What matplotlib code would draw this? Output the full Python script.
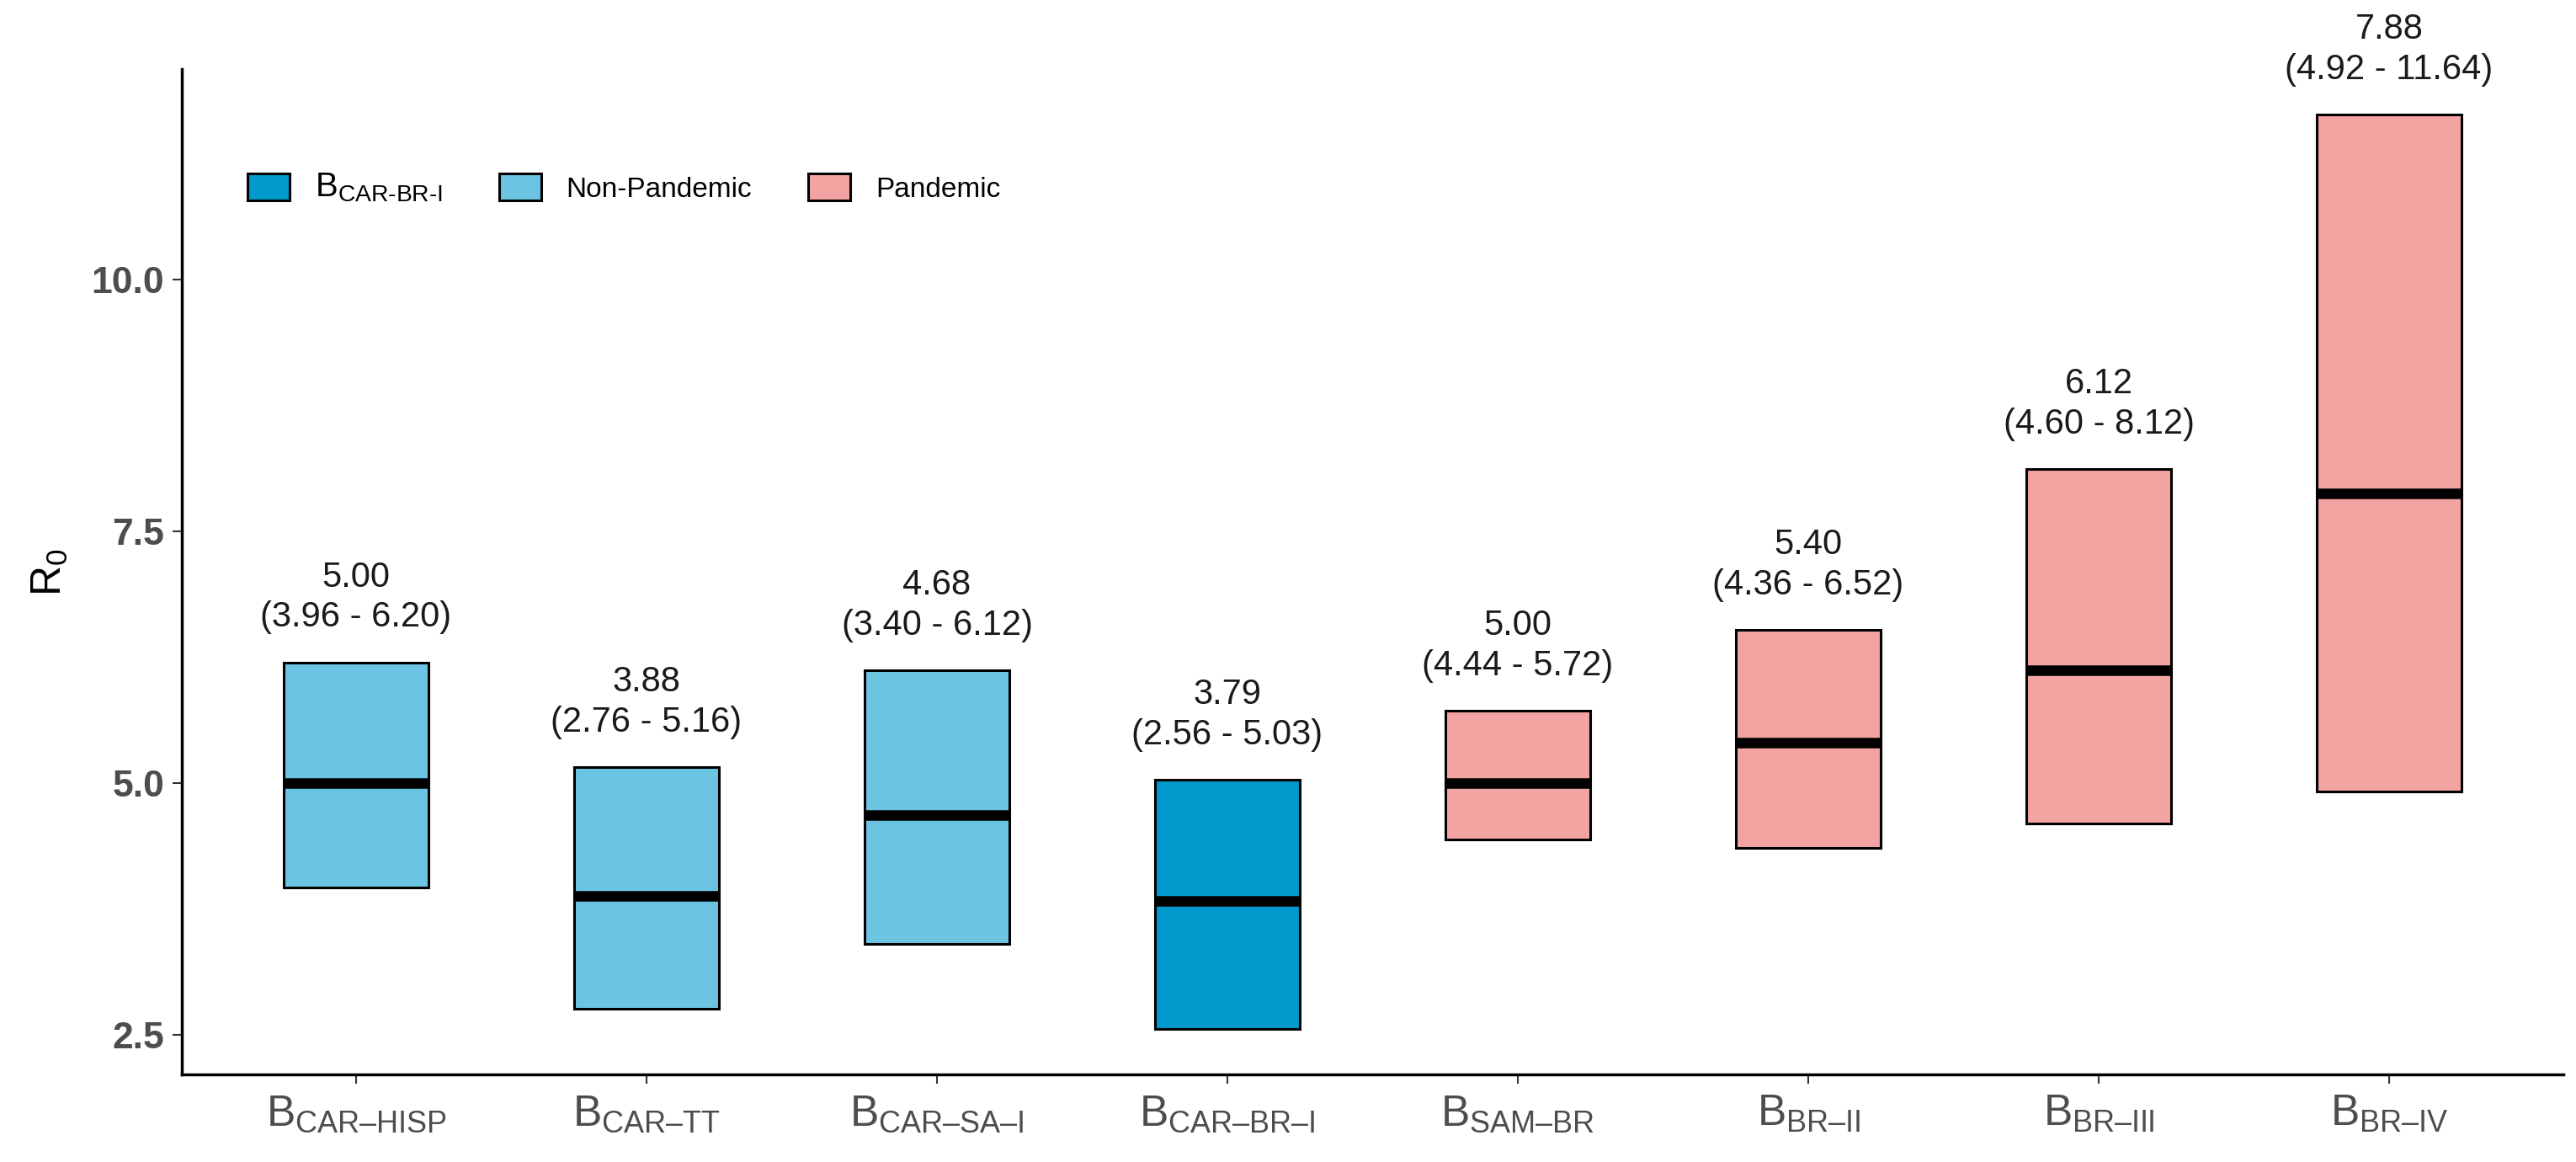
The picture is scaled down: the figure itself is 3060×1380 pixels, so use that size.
import matplotlib
matplotlib.use("Agg")
import matplotlib.pyplot as plt
from matplotlib.patches import Patch

# R0 estimates per lineage: median line, 95% interval box, and the printed labels

strains = ["CAR–HISP", "CAR–TT", "CAR–SA–I", "CAR–BR–I",
           "SAM–BR", "BR–II", "BR–III", "BR–IV"]
groups = ["Non-Pandemic", "Non-Pandemic", "Non-Pandemic", "B_CAR-BR-I",
          "Pandemic", "Pandemic", "Pandemic", "Pandemic"]
r0_median = [5.00, 3.88, 4.68, 3.83, 5.00, 5.40, 6.12, 7.88]
r0_low = [3.96, 2.76, 3.40, 2.56, 4.44, 4.36, 4.60, 4.92]
r0_high = [6.20, 5.16, 6.12, 5.03, 5.72, 6.52, 8.12, 11.64]
median_text = ["5.00", "3.88", "4.68", "3.79", "5.00", "5.40", "6.12", "7.88"]

colours = {"B_CAR-BR-I": "#0099CC",
           "Non-Pandemic": "#6AC4E2",
           "Pandemic": "#F4A3A3"}

plt.rcParams['font.family'] = ['Liberation Sans', 'DejaVu Sans']
plt.rcParams['mathtext.fontset'] = 'custom'
plt.rcParams['mathtext.rm'] = 'Liberation Sans'
plt.rcParams['mathtext.it'] = 'Liberation Sans:italic'
plt.rcParams['mathtext.bf'] = 'Liberation Sans:bold'

fig = plt.figure(figsize=(30.6, 13.8), dpi=100)
ax = fig.add_axes([216 / 3060, 104 / 1380, (3045 - 216) / 3060, (1276 - 82) / 1380])

x = list(range(1, len(strains) + 1))
width = 0.5

# boxes from low to high
heights = [h - l for h, l in zip(r0_high, r0_low)]
ax.bar(x, heights, bottom=r0_low, width=width,
       color=[colours[g] for g in groups], edgecolor="black", linewidth=2.2, zorder=2)

# median lines
ax.hlines(r0_median, [xi - width / 2 for xi in x], [xi + width / 2 for xi in x],
          color="black", linewidth=9, zorder=3)

# labels above each box
for xi, hi, med, lo in zip(x, r0_high, median_text, r0_low):
    ax.annotate("%s\n(%.2f - %.2f)" % (med, lo, hi), xy=(xi, hi),
                xytext=(0, 24), textcoords="offset points",
                ha="center", va="bottom", fontsize=30, color="#1A1A1A",
                linespacing=1.25)

ax.set_xlim(0.4, 8.6)
ax.set_ylim(2.106, 12.094)

ax.set_xticks(x)
ax.set_xticklabels([r"$\mathrm{B}_{\mathrm{%s}}$" % s for s in strains],
                   fontsize=37, color="#4D4D4D")
ax.set_yticks([2.5, 5.0, 7.5, 10.0])
ax.set_yticklabels(["2.5", "5.0", "7.5", "10.0"], fontsize=32,
                   fontweight="bold", color="#4D4D4D")
ax.tick_params(axis="both", length=8, width=1.5, color="#333333")
ax.tick_params(axis="x", pad=8)
ax.tick_params(axis="y", pad=7)

for side in ["top", "right"]:
    ax.spines[side].set_visible(False)
for side in ["left", "bottom"]:
    ax.spines[side].set_linewidth(2.5)

fig.text(59 / 3060, 1 - 680 / 1380, r"$\mathrm{R}_0$", rotation=90,
         ha="center", va="center", fontsize=36, color="black")

# legend
handles = [Patch(facecolor=colours[k], edgecolor="black", linewidth=2.2)
           for k in ["B_CAR-BR-I", "Non-Pandemic", "Pandemic"]]
labels = [r"$\mathrm{B}_{\mathrm{CAR\text{-}BR\text{-}I}}$", "Non-Pandemic", "Pandemic"]
leg = fig.legend(handles, labels, loc="center left",
                 bbox_to_anchor=(294 / 3060, 1 - 223 / 1380),
                 ncol=3, frameon=False, fontsize=24, handlelength=1.5, handleheight=1.1,
                 handletextpad=0.9, columnspacing=2.0, borderpad=0, borderaxespad=0)
leg.get_texts()[0].set_fontsize(29)

fig.savefig("out.png", dpi=100, facecolor="white")
